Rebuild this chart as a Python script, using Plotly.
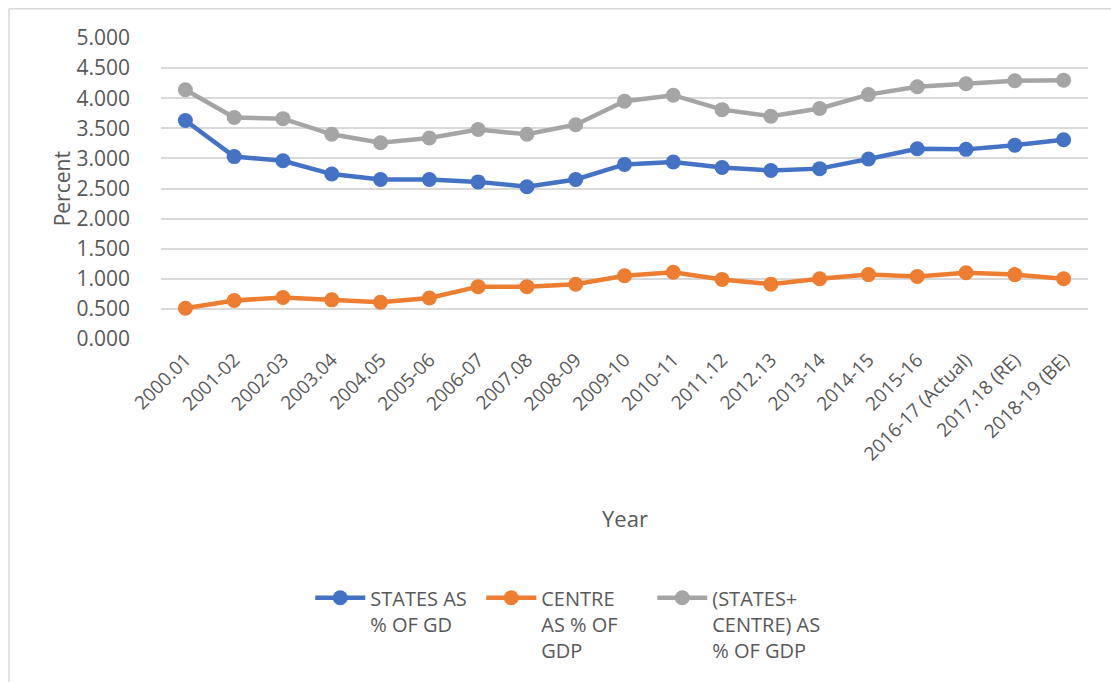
import plotly.graph_objects as go

years = ["2000.01", "2001-02", "2002-03", "2003.04", "2004.05", "2005-06", "2006-07",
         "2007.08", "2008-09", "2009-10", "2010-11", "2011.12", "2012.13", "2013-14",
         "2014-15", "2015-16", "2016-17 (Actual)", "2017.18 (RE)", "2018-19 (BE)"]

states = [3.63, 3.03, 2.96, 2.74, 2.65, 2.65, 2.61, 2.53, 2.65, 2.90, 2.94,
          2.85, 2.80, 2.83, 2.99, 3.16, 3.15, 3.22, 3.31]
centre = [0.51, 0.64, 0.69, 0.65, 0.61, 0.68, 0.87, 0.87, 0.91, 1.05, 1.11,
          0.99, 0.91, 1.00, 1.07, 1.04, 1.10, 1.07, 1.00]
combined = [4.14, 3.68, 3.66, 3.40, 3.26, 3.34, 3.48, 3.40, 3.56, 3.95, 4.05,
            3.81, 3.70, 3.83, 4.06, 4.19, 4.24, 4.29, 4.30]

series = [
    ("STATES AS<br>% OF GD", states, "#4472C4"),
    ("CENTRE<br>AS % OF<br>GDP", centre, "#ED7D31"),
    ("(STATES+<br>CENTRE) AS<br>% OF GDP", combined, "#A5A5A5"),
]

FONT = "Open Sans"
TEXT = "#595959"

fig = go.Figure()
for name, vals, color in series:
    fig.add_trace(go.Scatter(
        x=years, y=vals, name=name, mode="lines+markers",
        line=dict(color=color, width=4.5),
        marker=dict(color=color, size=15),
    ))

fig.update_layout(
    width=1111, height=682,
    margin=dict(l=161, r=23, t=38, b=339),
    paper_bgcolor="white", plot_bgcolor="white",
    font=dict(family=FONT, color=TEXT, size=19),
    showlegend=True,
    legend=dict(
        orientation="h", x=0.161, xanchor="left", y=-0.795, yanchor="top",
        font=dict(family=FONT, size=20, color=TEXT), valign="top",
        itemwidth=50, entrywidth=106, tracegroupgap=0,
    ),
    xaxis=dict(
        type="category", range=[-0.5, len(years) - 0.5], tickangle=-45,
        showgrid=False, zeroline=False, showline=False, ticks="",
        tickfont=dict(size=19, color=TEXT), ticklabelstandoff=5,
    ),
    yaxis=dict(
        range=[0, 5], dtick=0.5, tickformat=".3f", showgrid=True,
        gridcolor="#D9D9D9", gridwidth=1.5, zeroline=False, showline=False,
        ticks="", tickfont=dict(size=21, color=TEXT), ticklabelstandoff=30,
    ),
    annotations=[
        dict(text="Percent", xref="paper", yref="paper", x=-0.107, y=0.5,
             xanchor="center", yanchor="middle", textangle=-90,
             showarrow=False, font=dict(size=21, color=TEXT)),
        dict(text="Year", xref="paper", yref="paper", x=0.5, y=-0.595,
             xanchor="center", yanchor="middle",
             showarrow=False, font=dict(size=22, color=TEXT)),
    ],
    shapes=[
        dict(type="line", xref="paper", yref="paper", x0=-0.164, x1=1.1,
             y0=1.097, y1=1.097, line=dict(color="#D9D9D9", width=1.5)),
        dict(type="line", xref="paper", yref="paper", x0=-0.164, x1=-0.164,
             y0=1.097, y1=-1.2, line=dict(color="#D9D9D9", width=1.5)),
    ],
)

fig.write_html("out.html")
